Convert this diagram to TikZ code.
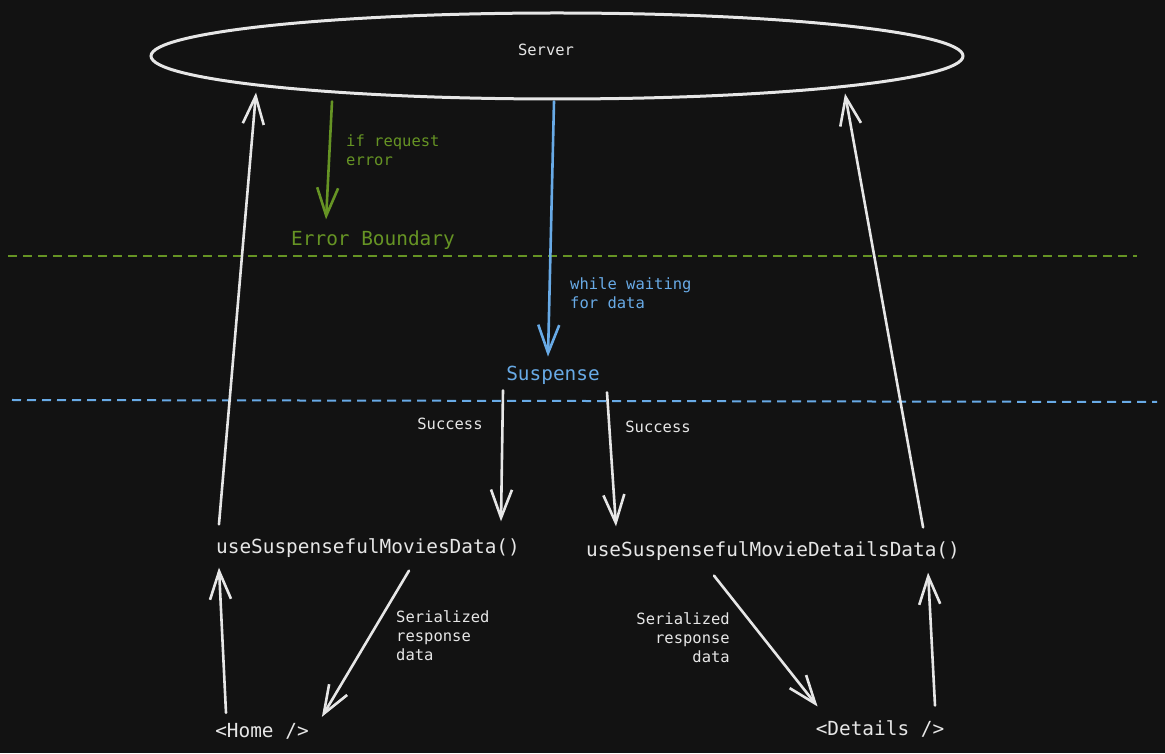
\documentclass[tikz,border=0pt]{standalone}
\usepackage{fontspec}
\setmonofont{DejaVu Sans Mono}
\usepackage{tikz}
\usetikzlibrary{arrows.meta,shapes.geometric}

\definecolor{bg}{HTML}{121212}
\definecolor{ink}{HTML}{E6E6E6}
\definecolor{errgreen}{RGB}{102,148,36}
\definecolor{waitblue}{RGB}{104,170,230}

\begin{document}
\begin{tikzpicture}[x=1pt,y=1pt,
        big/.style={font=\ttfamily\fontsize{19.4}{23}\selectfont,text=ink,inner sep=2pt},
        lbl/.style={font=\ttfamily\fontsize{15.5}{19}\selectfont,text=ink,inner sep=0pt},
        wire/.style={draw=ink,line width=2.6pt,line cap=round,
            -{Straight Barb[length=28pt,width=21pt]}},
        gwire/.style={wire,draw=errgreen},
        bwire/.style={wire,draw=waitblue},
        sep/.style={line width=2pt,dash pattern=on 9pt off 6pt}]
        \fill[bg] (0,0) rectangle (1165,753);
        \useasboundingbox (0,0) rectangle (1165,753);

        % server and the two layers
        \node[ellipse,draw=ink,line width=3pt,minimum width=812pt,minimum height=86pt,
            label={[lbl,xshift=-11pt,yshift=6pt]center:Server}] (server) at (557,697) {};
        \node[big,text=errgreen] (errb) at (373,513) {Error Boundary};
        \node[big,text=waitblue] (susp) at (553,378) {Suspense};
        \draw[sep,errgreen] (8,497) -- (1137,497);
        \draw[sep,waitblue] (12,353) -- (1157,351);

        % hooks and components
        \node[big] (movies) at (368,205) {useSuspensefulMoviesData()};
        \node[big] (details) at (773,202) {useSuspensefulMovieDetailsData()};
        \node[big] (home) at (262,22) {<Home />};
        \node[big] (detc) at (880,24) {<Details />};

        % labels
        \node[lbl,text=errgreen,anchor=west,align=left] (iflbl) at (346,603) {if request\\error};
        \node[lbl,text=waitblue,anchor=west,align=left] (waitlbl) at (570,460) {while waiting\\for data};
        \node[lbl] (succl) at (450,329) {Success};
        \node[lbl] (succr) at (658,326) {Success};
        \node[lbl,anchor=west,align=left] (serl) at (396,117) {Serialized\\response\\data};
        \node[lbl,anchor=east,align=right] (serr) at (730,115) {Serialized\\response\\data};

        \draw[gwire] ([xshift=-225pt,yshift=-1pt]server.south) -- ([xshift=37pt,yshift=9pt]errb.north west);
        \draw[bwire] ([xshift=-3pt,yshift=-1pt]server.south) -- ([xshift=-5pt,yshift=7pt]susp.north);
        \draw[wire] ([xshift=-50pt,yshift=-4pt]susp.south) -- ([xshift=133pt,yshift=15pt]movies.north);
        \draw[wire] ([xshift=54pt,yshift=-6pt]susp.south) -- ([xshift=-157pt,yshift=13pt]details.north);
        \draw[wire] ([xshift=5pt,yshift=12pt]movies.north west) -- ([xshift=-301pt,yshift=8pt]server.south);
        \draw[wire] ([xshift=-39pt,yshift=12pt]details.north east) -- ([xshift=288pt,yshift=7pt]server.south);
        \draw[wire] ([xshift=-36pt,yshift=8pt]home.north) -- ([xshift=5pt,yshift=-8pt]movies.south west);
        \draw[wire] ([xshift=41pt,yshift=-11pt]movies.south) -- ([xshift=11pt,yshift=4pt]home.north east);
        \draw[wire] ([xshift=-59pt,yshift=-13pt]details.south) -- ([xshift=4pt,yshift=12pt]detc.north west);
        \draw[wire] ([xshift=55pt,yshift=13pt]detc.north) -- ([xshift=-34pt,yshift=-10pt]details.south east);
    \end{tikzpicture}
\end{document}
